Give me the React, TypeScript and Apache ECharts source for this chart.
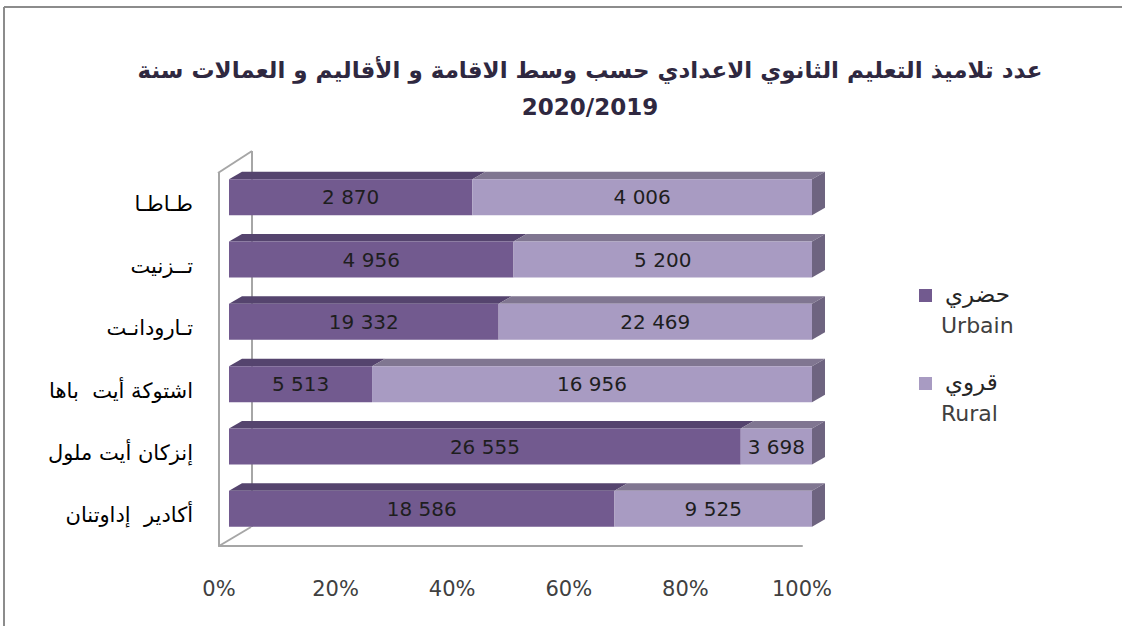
import React, { useEffect, useRef } from "react";
import * as echarts from "echarts";

const categories = ["أكادير  إداوتنان", "إنزكان أيت ملول", "اشتوكة أيت  باها", "تـارودانـت", "تــزنيت", "طـاطـا"];
const urbain = [18586, 26555, 5513, 19332, 4956, 2870];
const rural = [9525, 3698, 16956, 22469, 5200, 4006];
const seriesNames = ["حضري", "قروي"];
const seriesNamesFr = ["Urbain", "Rural"];
const titleLine1 = "عدد تلاميذ التعليم الثانوي الاعدادي حسب وسط الاقامة و الأقاليم و العمالات سنة";
const titleLine2 = "2020/2019";

const frontColors = ["#725A8F", "#A89BC2"];
const topColors = ["#55446E", "#807691"];
const sideColor = "#6E6480";
const FONT = "DejaVu Sans";

const fmt = (v: number) => String(v).replace(/\B(?=(\d{3})+(?!\d))/g, " ");

export default function App() {
  const ref = useRef<HTMLDivElement>(null);
  useEffect(() => {
    if (!ref.current) return;
    const chart = echarts.init(ref.current, undefined, { renderer: "svg" });
    const totals = urbain.map((u, i) => u + rural[i]);
    const uPct = urbain.map((u, i) => (u / totals[i]) * 100);
    const rPct = rural.map((r, i) => (r / totals[i]) * 100);
    const faces: number[][] = [];
    categories.forEach((_, i) => {
      faces.push([0, uPct[i], i, 0]);
      faces.push([uPct[i], 100, i, 1]);
    });
    const H = 36, DX = 13, DY = 7.5;
    const gray = "#a6a6a6";
    chart.setOption({
      animation: false,
      backgroundColor: "#ffffff",
      title: {
        text: titleLine1 + "\n" + titleLine2,
        left: 585,
        top: 46,
        textAlign: "center",
        textStyle: { fontFamily: FONT, fontSize: 23, fontWeight: "bold", color: "#2f2840", lineHeight: 37 },
      },
      grid: [
        { left: 229, top: 166, width: 583, height: 374 },
        { left: 219, top: 173, width: 583, height: 373 },
      ],
      xAxis: [
        { type: "value", gridIndex: 0, min: 0, max: 100, show: false },
        {
          type: "value", gridIndex: 1, min: 0, max: 100, interval: 20,
          axisLine: { show: true, lineStyle: { color: gray, width: 2 } },
          axisTick: { show: false },
          splitLine: { show: false },
          axisLabel: { formatter: "{value}%", fontFamily: FONT, fontSize: 21, color: "#404040", margin: 32 },
        },
      ],
      yAxis: [
        { type: "category", gridIndex: 0, data: categories, show: false },
        {
          type: "category", gridIndex: 1, data: categories,
          axisLine: { show: true, lineStyle: { color: gray, width: 2 } },
          axisTick: { show: false },
          axisLabel: { fontFamily: FONT, fontSize: 21, color: "#000", margin: 26 },
        },
      ],
      graphic: [
        { type: "line", shape: { x1: 4, y1: 7, x2: 1122, y2: 7 }, style: { stroke: "#8c8c8c", lineWidth: 2 } },
        { type: "line", shape: { x1: 4, y1: 7, x2: 4, y2: 626 }, style: { stroke: "#8c8c8c", lineWidth: 2 } },
        { type: "line", shape: { x1: 218, y1: 173, x2: 252, y2: 151 }, style: { stroke: gray, lineWidth: 2 } },
        { type: "line", shape: { x1: 252, y1: 151, x2: 252, y2: 527 }, style: { stroke: gray, lineWidth: 2 } },
        { type: "line", shape: { x1: 219, y1: 546, x2: 251, y2: 527 }, style: { stroke: gray, lineWidth: 2 } },
        { type: "rect", shape: { x: 919, y: 289, width: 13, height: 13 }, style: { fill: frontColors[0] } },
        { type: "text", x: 945, y: 294, style: { text: seriesNames[0], font: `23px "${FONT}"`, fill: "#262626", verticalAlign: "middle" } },
        { type: "text", x: 941, y: 325, style: { text: seriesNamesFr[0], font: `22px "${FONT}"`, fill: "#404040", verticalAlign: "middle" } },
        { type: "rect", shape: { x: 919, y: 377, width: 13, height: 13 }, style: { fill: frontColors[1] } },
        { type: "text", x: 945, y: 382, style: { text: seriesNames[1], font: `23px "${FONT}"`, fill: "#262626", verticalAlign: "middle" } },
        { type: "text", x: 941, y: 413, style: { text: seriesNamesFr[1], font: `22px "${FONT}"`, fill: "#404040", verticalAlign: "middle" } },
      ],
      series: [
        {
          name: seriesNames[0], type: "bar", stack: "t", xAxisIndex: 0, yAxisIndex: 0,
          barWidth: H, data: uPct, itemStyle: { color: frontColors[0] },
          label: { show: true, position: "inside", formatter: (p: any) => fmt(urbain[p.dataIndex]), fontFamily: FONT, fontSize: 20, color: "#1e1e1e" },
        },
        {
          name: seriesNames[1], type: "bar", stack: "t", xAxisIndex: 0, yAxisIndex: 0,
          barWidth: H, data: rPct, itemStyle: { color: frontColors[1] },
          label: { show: true, position: "inside", formatter: (p: any) => fmt(rural[p.dataIndex]), fontFamily: FONT, fontSize: 20, color: "#1e1e1e" },
        },
        {
          type: "custom", xAxisIndex: 0, yAxisIndex: 0, silent: true,
          encode: { x: [0, 1], y: 2 },
          data: faces,
          renderItem: (params: any, api: any) => {
            const s = api.value(0), e = api.value(1), c = api.value(2), k = api.value(3);
            const p0 = api.coord([s, c]);
            const p1 = api.coord([e, c]);
            const yTop = p0[1] - H / 2;
            const children: any[] = [
              {
                type: "polygon",
                shape: { points: [[p0[0], yTop], [p1[0], yTop], [p1[0] + DX, yTop - DY], [p0[0] + DX, yTop - DY]] },
                style: { fill: topColors[k] },
              },
            ];
            if (k === 1) {
              children.push({
                type: "polygon",
                shape: { points: [[p1[0], yTop], [p1[0] + DX, yTop - DY], [p1[0] + DX, yTop + H - DY], [p1[0], yTop + H]] },
                style: { fill: sideColor },
              });
            }
            return { type: "group", children };
          },
        },
      ],
    });
    return () => chart.dispose();
  }, []);
  return <div ref={ref} style={{ position: "fixed", left: 0, top: 0, width: 1122, height: 626 }} />;
}
